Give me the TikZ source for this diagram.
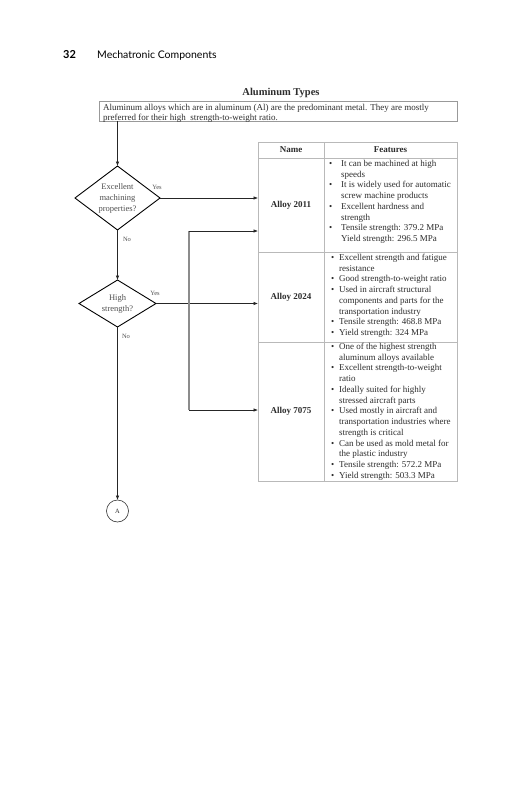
\documentclass[tikz,border=0pt]{standalone}
\usepackage{fontspec}
\setmainfont{Liberation Serif}
\newfontfamily\hdrfont{Lato}
\usetikzlibrary{arrows.meta,shapes.geometric}
\definecolor{txtc}{RGB}{45,45,45}
\definecolor{lblc}{RGB}{80,80,80}
\definecolor{gridc}{RGB}{185,185,185}
\tikzset{
  arr/.style={-{Latex[length=4.5pt,width=3.5pt]}, line width=0.6pt, draw=black!85},
  plain/.style={line width=0.6pt, draw=black!85},
  vbar/.style={line width=1.4pt, draw=black!45},
  cellbox/.style={draw=gridc, line width=0.6pt, inner sep=0pt, outer sep=0pt, font=\bfseries\fontsize{9}{10.8}\selectfont, text=txtc},
  descbox/.style={draw=black!40, line width=0.6pt, inner sep=0pt, outer sep=0pt},
  dec/.style={diamond, draw=black, line width=0.9pt, inner sep=0pt, outer sep=0pt, align=center, text=lblc, font=\fontsize{8.5}{11}\selectfont},
  yn/.style={font=\fontsize{6.5}{7}\selectfont, text=lblc, inner sep=0pt},
  ft/.style={anchor=mid west, inner sep=0pt, font=\fontsize{9}{10.8}\selectfont, text=txtc},
  conn/.style={circle, draw=black!80, line width=0.6pt, minimum size=22pt, inner sep=0pt, outer sep=0pt, font=\fontsize{6.5}{7}\selectfont, text=txtc},
}
\newcommand\bx{329}
\newcommand\tx{341}
\newcommand\fb[3]{\node[ft] (b#1) at (\bx,#2) {•};\node[ft] (t#1) at (\tx,#2) {#3};}
\newcommand\fc[3]{\node[ft] (t#1) at (\tx,#2) {#3};}
\begin{document}
\begin{tikzpicture}[x=1pt,y=-1pt]
\useasboundingbox[fill=white] (0,0) rectangle (531,800);
% header
\node[anchor=base west, inner sep=0pt, font=\hdrfont\bfseries\fontsize{11}{13}\selectfont] (pg) at (63,59) {32};
\node[anchor=base west, inner sep=0pt, font=\hdrfont\fontsize{10.5}{13}\selectfont] (chap) at (97,59) {Mechatronic Components};
% title and description
\node[inner sep=0pt, font=\bfseries\fontsize{10.5}{12}\selectfont, text=txtc] (title) at (281,93) {Aluminum Types};
\node[descbox, minimum width=358pt, minimum height=20pt, anchor=north west] (desc) at (99,101) {};
\node[ft] (d1) at (103,108) {Aluminum alloys which are in aluminum (Al) are the predominant metal. They are mostly};
\node[ft] (d2) at (103,118) {preferred for their high\ \ strength-to-weight ratio.};
% table
\node[cellbox, minimum width=66pt, minimum height=16pt] (hname) at (291,150) {Name};
\node[cellbox, minimum width=133pt, minimum height=16pt] (hfeat) at (390.5,150) {Features};
\node[cellbox, minimum width=66pt, minimum height=94pt] (n2011) at (291,205) {Alloy 2011};
\node[cellbox, minimum width=133pt, minimum height=94pt] (f2011) at (390.5,205) {};
\node[cellbox, minimum width=66pt, minimum height=90pt] (n2024) at (291,297) {Alloy 2024};
\node[cellbox, minimum width=133pt, minimum height=90pt] (f2024) at (390.5,297) {};
\node[cellbox, minimum width=66pt, minimum height=139pt] (n7075) at (291,411.5) {Alloy 7075};
\node[cellbox, minimum width=133pt, minimum height=139pt] (f7075) at (390.5,411.5) {};
% row 1 text
\fb{a1}{164.3}{It can be machined at high}
\fc{a2}{175}{speeds}
\fb{a3}{185.7}{It is widely used for automatic}
\fc{a4}{196.4}{screw machine products}
\fb{a5}{207.1}{Excellent hardness and}
\fc{a6}{217.8}{strength}
\fb{a7}{228.5}{Tensile strength: 379.2 MPa}
\fc{a8}{239.2}{Yield strength: 296.5 MPa}
% row 2 text
\renewcommand\bx{331}
\renewcommand\tx{339}
\fb{b1}{258}{Excellent strength and fatigue}
\fc{b2}{268.75}{resistance}
\fb{b3}{279.5}{Good strength-to-weight ratio}
\fb{b4}{290.25}{Used in aircraft structural}
\fc{b5}{301}{components and parts for the}
\fc{b6}{311.75}{transportation industry}
\fb{b7}{322.5}{Tensile strength: 468.8 MPa}
\fb{b8}{333.25}{Yield strength: 324 MPa}
% row 3 text
\fb{c1}{347}{One of the highest strength}
\fc{c2}{357.75}{aluminum alloys available}
\fb{c3}{368.5}{Excellent strength-to-weight}
\fc{c4}{379.25}{ratio}
\fb{c5}{390}{Ideally suited for highly}
\fc{c6}{400.75}{stressed aircraft parts}
\fb{c7}{411.5}{Used mostly in aircraft and}
\fc{c8}{422.25}{transportation industries where}
\fc{c9}{433}{strength is critical}
\fb{c10}{443.75}{Can be used as mold metal for}
\fc{c11}{454.5}{the plastic industry}
\fb{c12}{465.25}{Tensile strength: 572.2 MPa}
\fb{c13}{476}{Yield strength: 503.3 MPa}
% flowchart
\node[dec, minimum width=85pt, minimum height=64pt, aspect=1.33] (q1) at (117.5,198) {Excellent\\machining\\properties?};
\node[dec, minimum width=77pt, minimum height=47pt, aspect=1.64] (q2) at (117.5,303.5) {High\\strength?};
\node[conn] (A) at (117.5,511) {A};
\draw[arr] (q1.north |- desc.south) -- (q1.north);
\draw[arr] (q1.south) -- (q2.north);
\draw[arr] (q2.south) -- (A.north);
\draw[arr] (q1.east) -- (q1.east -| n2011.west);
\draw[arr] (q2.east) -- (q2.east -| n2024.west);
\coordinate (jt) at (189,231);
\coordinate (jb) at (189,410);
\draw[vbar] (jt) -- (jb);
\draw[arr] (jt) -- (jt -| n2011.west);
\draw[arr] (jb) -- (jb -| n7075.west);
\node[yn] (y1) at (157,187) {Yes};
\node[yn] (no1) at (127,239) {No};
\node[yn] (y2) at (155,293) {Yes};
\node[yn] (no2) at (126,336) {No};
\end{tikzpicture}
\end{document}
